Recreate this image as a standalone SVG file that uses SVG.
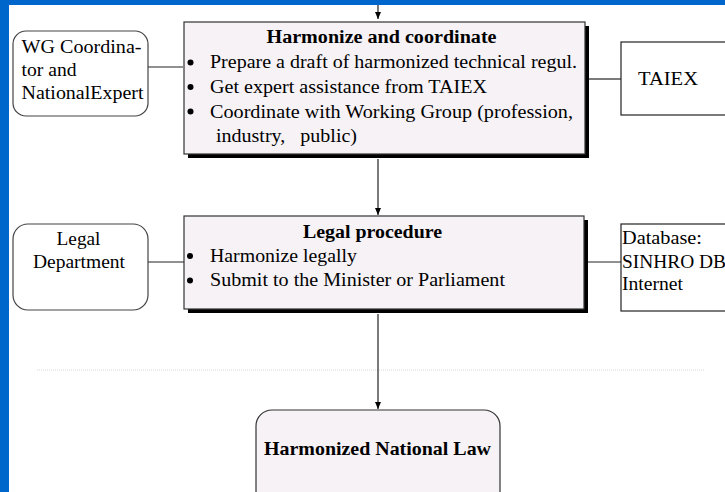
<svg xmlns="http://www.w3.org/2000/svg" width="725" height="492" viewBox="0 0 725 492">
<defs>
<marker id="ah" markerWidth="8" markerHeight="8" refX="7" refY="4" orient="auto" markerUnits="userSpaceOnUse">
<path d="M0,1 L7,4 L0,7 Z" fill="#000"/>
</marker>
<style>
text{font-family:"Liberation Serif","Times New Roman",serif;fill:#000;}
.t{font-size:18.5px;}
.b{font-size:18px;font-weight:bold;}
.side{fill:#fff;stroke:#444;stroke-width:1.2;}
.main{fill:#f6f2f6;stroke:#333;stroke-width:1.2;}
.sh{fill:#000;}
.c{stroke:#222;stroke-width:1.2;fill:none;}
</style>
</defs>
<rect x="0" y="0" width="725" height="492" fill="#0066cc"/>
<rect x="9" y="5" width="716" height="487" fill="#fff"/>
<line x1="37" y1="370" x2="705" y2="370" stroke="#d8d8d8" stroke-width="1" stroke-dasharray="1 1"/>

<g id="connectors">
<line class="c" x1="378" y1="5" x2="378" y2="19" marker-end="url(#ah)"/>
<line class="c" x1="378" y1="159" x2="378" y2="215" marker-end="url(#ah)"/>
<line class="c" x1="378" y1="314" x2="378" y2="409" marker-end="url(#ah)"/>
<line class="c" x1="148" y1="67" x2="183" y2="67"/>
<line class="c" x1="589" y1="79" x2="621" y2="79"/>
<line class="c" x1="148" y1="262" x2="184" y2="262"/>
<line class="c" x1="588" y1="262" x2="621" y2="262"/>
</g>

<g id="wg">
<rect class="side" x="13" y="31" width="135" height="85" rx="13"/>
<text class="t" x="21.5" y="53" textLength="120" lengthAdjust="spacingAndGlyphs">WG Coordina-</text>
<text class="t" x="21.5" y="75.5" textLength="55" lengthAdjust="spacingAndGlyphs">tor and</text>
<text class="t" x="21.5" y="98.5" textLength="122" lengthAdjust="spacingAndGlyphs">NationalExpert</text>
</g>

<g id="harmonize">
<rect class="sh" x="188" y="26" width="401" height="132"/>
<rect class="main" x="184" y="22" width="401" height="132"/>
<text class="b" x="266.5" y="43" textLength="230" lengthAdjust="spacingAndGlyphs">Harmonize and coordinate</text>
<circle cx="190.5" cy="62.5" r="3"/>
<circle cx="190.5" cy="87" r="3"/>
<circle cx="190.5" cy="111.5" r="3"/>
<text class="t" x="210" y="68" textLength="367" lengthAdjust="spacingAndGlyphs">Prepare a draft of harmonized technical regul.</text>
<text class="t" x="210" y="93" textLength="277" lengthAdjust="spacingAndGlyphs">Get expert assistance from TAIEX</text>
<text class="t" x="210" y="118" textLength="363" lengthAdjust="spacingAndGlyphs">Coordinate with Working Group (profession,</text>
<text class="t" x="216" y="142" textLength="141" lengthAdjust="spacingAndGlyphs" xml:space="preserve">industry,   public)</text>
</g>

<g id="taiex">
<rect fill="#fff" stroke="#222" stroke-width="1.2" x="621" y="42" width="110" height="73"/>
<text class="t" x="638" y="85" textLength="60" lengthAdjust="spacingAndGlyphs">TAIEX</text>
</g>

<g id="legal-dept">
<rect class="side" x="13" y="224" width="135" height="86" rx="15"/>
<text class="t" x="56.5" y="245" textLength="44" lengthAdjust="spacingAndGlyphs">Legal</text>
<text class="t" x="33" y="268" textLength="92" lengthAdjust="spacingAndGlyphs">Department</text>
</g>

<g id="legal-procedure">
<rect class="sh" x="188" y="220" width="400" height="93"/>
<rect class="main" x="184" y="216" width="400" height="93"/>
<text class="b" x="303" y="238" textLength="139" lengthAdjust="spacingAndGlyphs">Legal procedure</text>
<circle cx="190" cy="256" r="3"/>
<circle cx="190" cy="280.5" r="3"/>
<text class="t" x="210" y="262" textLength="147" lengthAdjust="spacingAndGlyphs">Harmonize legally</text>
<text class="t" x="210" y="286" textLength="295" lengthAdjust="spacingAndGlyphs">Submit to the Minister or Parliament</text>
</g>

<g id="database">
<rect fill="#fff" stroke="#222" stroke-width="1.2" x="621" y="224" width="110" height="87"/>
<text class="t" x="622" y="244" textLength="80" lengthAdjust="spacingAndGlyphs">Database:</text>
<text class="t" x="622" y="268" textLength="104" lengthAdjust="spacingAndGlyphs">SINHRO DB</text>
<text class="t" x="622" y="290" textLength="61" lengthAdjust="spacingAndGlyphs">Internet</text>
</g>

<g id="national-law">
<rect class="main" x="256" y="410" width="244" height="100" rx="16" stroke="#444"/>
<text x="264" y="455" font-size="19.5" font-weight="bold" textLength="227" lengthAdjust="spacingAndGlyphs">Harmonized National Law</text>
</g>
</svg>
